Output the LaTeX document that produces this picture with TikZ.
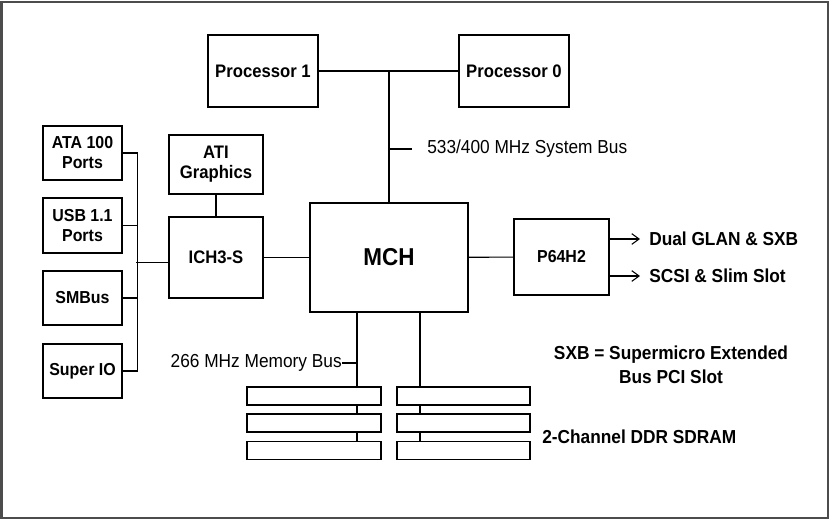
\documentclass[tikz,border=0pt]{standalone}
\usepackage{fontspec}
\setmainfont{Liberation Sans}[FakeStretch=0.92]
\usetikzlibrary{arrows.meta, positioning, backgrounds}
\newdimen\pxu \pxu=0.75pt

\begin{document}
\begin{tikzpicture}[x=0.75pt, y=-0.75pt,
    block/.style={rectangle, draw, line width=0.8pt, fill=white, inner sep=0pt, align=center, font=\fontsize{13.6}{15}\selectfont\bfseries},
    slot/.style={rectangle, draw, line width=0.8pt, fill=white, inner sep=0pt, minimum width=134\pxu, minimum height=18\pxu},
    lbl/.style={inner sep=0pt, font=\fontsize{14.1}{15}\selectfont},
    lblb/.style={inner sep=0pt, align=center, font=\fontsize{14.1}{18}\selectfont\bfseries},
    wire/.style={line width=0.8pt},
    arrow/.style={wire, -{Straight Barb[length=5.5pt, width=8pt]}}
]
\useasboundingbox (0,0) rectangle (829,519);
% Frame
\draw[line width=1.5pt, black!70] (1.5,1.5) rectangle (827.5,517.5);

% Processors
\node[block, minimum width=110\pxu, minimum height=72\pxu] (proc1) at (263,71) {Processor 1};
\node[block, minimum width=110\pxu, minimum height=72\pxu] (proc0) at (514,71) {Processor 0};

% Chipset
\node[block, minimum width=158\pxu, minimum height=109\pxu, font=\fontsize{18.3}{20}\selectfont\bfseries] (mch) at (389,257.5) {MCH};
\node[block, minimum width=95\pxu, minimum height=76\pxu, font=\fontsize{13}{15}\selectfont\bfseries] (p64) at (561.5,257) {P64H2};
\node[block, minimum width=94\pxu, minimum height=81\pxu] (ich) at (216,257.5) {ICH3-S};
\node[block, minimum width=94\pxu, minimum height=59\pxu] (ati) at (216,164.5) {ATI\\Graphics};

% Peripherals
\node[block, minimum width=79\pxu, minimum height=54\pxu, font=\fontsize{13}{15}\selectfont\bfseries] (ata) at (82.5,153) {ATA 100\\Ports};
\node[block, minimum width=79\pxu, minimum height=55\pxu, font=\fontsize{13}{15}\selectfont\bfseries] (usb) at (82.5,225.5) {USB 1.1\\Ports};
\node[block, minimum width=79\pxu, minimum height=54\pxu, font=\fontsize{13}{15}\selectfont\bfseries] (smb) at (82.5,298) {SMBus};
\node[block, minimum width=79\pxu, minimum height=54\pxu, font=\fontsize{13}{15}\selectfont\bfseries] (sio) at (82.5,371) {Super IO};

% Memory slots
\foreach \r/\y in {1/396, 2/423, 3/450.5} {
  \node[slot] (slotA\r) at (314,\y) {};
  \node[slot, minimum width=133\pxu] (slotB\r) at (463.5,\y) {};
}

% Labels
\node[lbl, anchor=west] (sblbl) at (427,149) {533/400 MHz System Bus};
\node[lbl, anchor=east] (mblbl) at (342,363) {266 MHz Memory Bus};
\node[lblb, anchor=west] (glan) at (649,239) {Dual GLAN \& SXB};
\node[lblb, anchor=west] (scsi) at (649,276) {SCSI \& Slim Slot};
\node[lblb] (sxb) at (671,365) {SXB = Supermicro Extended\\Bus PCI Slot};
\node[lblb, anchor=west] (ddr) at (542,437) {2-Channel DDR SDRAM};

% System bus
\coordinate (sb) at (389,71);
\coordinate (sbt) at (389,149);
\draw[wire] (proc1) -- (proc0);
\draw[wire] (sb) -- (mch.north);
\draw[wire] (sbt) -- ([xshift=-15\pxu]sblbl.west);

% Memory bus
\coordinate (chA) at ([xshift=-32\pxu]mch.south);
\coordinate (chB) at ([xshift=31\pxu]mch.south);
\begin{scope}[on background layer]
\draw[wire] (chA) -- (chA |- slotA3.north);
\draw[wire] (chB) -- (chB |- slotB3.north);
\end{scope}
\draw[wire] (mblbl.east) -- (chA |- mblbl.east);

% Hub links
\draw[wire] (ich) -- (mch);
\draw[wire] (mch) -- (p64);
\draw[wire] (ati) -- (ich);

% Peripheral bus
\draw[wire] (ata.east) -- ++(15,0) |- (sio.east);
\draw[wire] (usb.east) -- ++(15,0);
\draw[wire] (smb.east) -- ++(15,0);
\draw[wire] ([yshift=-3.75pt]ich.west) -- ++(-32,0);

% PCI-X outputs
\draw[arrow] (p64.east |- glan.west) -- ([xshift=-9\pxu]glan.west);
\draw[arrow] (p64.east |- scsi.west) -- ([xshift=-9\pxu]scsi.west);
\end{tikzpicture}
\end{document}
